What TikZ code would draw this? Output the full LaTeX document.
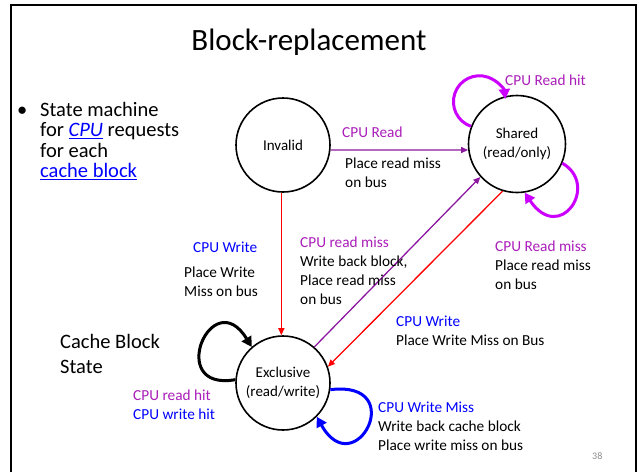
\documentclass[tikz,border=0pt]{standalone}
\usepackage{fontspec}
\setmainfont{Carlito}
\usetikzlibrary{arrows.meta}

\definecolor{purpline}{RGB}{140,25,160}
\definecolor{purptext}{RGB}{170,30,185}
\definecolor{magloop}{RGB}{204,0,255}
\definecolor{linkblue}{RGB}{0,0,255}
\definecolor{pagenum}{RGB}{140,140,140}

% left-aligned block whose baseline is the first line's baseline
\newcommand\txt[1]{\begin{tabular}[t]{@{}l@{}}#1\end{tabular}}
% blue underlined hyperlink-style text
\newcommand\lnk[1]{{\color{linkblue}\setbox0=\hbox{#1}\rlap{\rule[-2.6pt]{\wd0}{1.5pt}}\box0}}

\begin{document}
\begin{tikzpicture}[x=1pt,y=1pt,
  stnode/.style={circle, draw=black, line width=1.6pt, inner sep=0pt, align=center,
                 font=\fontsize{15}{19}\selectfont},
  lbl/.style={anchor=base west, inner sep=0pt, font=\fontsize{15.3}{19}\selectfont},
  big/.style={anchor=base west, inner sep=0pt, font=\fontsize{20.5}{20.3}\selectfont},
  edgearrow/.style={line width=1.3pt, -{Triangle[length=7pt,width=6pt]}},
  selfloop/.style={line width=3pt, -{Triangle[length=10pt,width=11pt]}},
]
\useasboundingbox (0,0) rectangle (639,-472);
\fill[white] (0,0) rectangle (639,-472);

% slide frame (open at the bottom)
\draw[line width=2.6pt] (11,-472) -- (11,-5) -- (636,-5) -- (636,-472);

% title
\node[anchor=base, inner sep=0pt, font=\fontsize{31}{36}\selectfont] (title) at (309,-50) {Block-replacement};

% bullet text
\node[big] (dot) at (17,-116.5) {•};
\node[big] (bullet) at (40,-116.5) {\txt{State machine\\for \lnk{\textit{CPU}} requests\\for each\\\lnk{cache block}}};

\node[anchor=base west, inner sep=0pt, font=\fontsize{20.5}{25}\selectfont] (cbs) at (60,-348)
  {\txt{Cache Block\\State}};

% states
\node[stnode, minimum size=94pt] (inv) at (283,-145) {Invalid};
\node[stnode, minimum size=97pt] (sh)  at (517,-144) {Shared\\(read/only)};
\node[stnode, minimum size=94pt] (ex)  at (283,-383) {Exclusive\\(read/write)};

% transitions
\draw[edgearrow, purpline] (inv.-6) -- (sh.187);
\draw[edgearrow, red] (inv.-92) -- (ex.92);
\draw[edgearrow, purpline] (ex.49) -- (sh.222);
\draw[edgearrow, red] (sh.253) -- (ex.20);

% self loops
\draw[selfloop, magloop] (sh.159) arc[start angle=251, end angle=6, radius=26];
\draw[selfloop, magloop] (sh.-23) .. controls (600,-185) and (560,-245) .. (sh.-81.5);
\draw[selfloop, black] (ex.176) .. controls (165,-392) and (212,-282) .. (ex.131.5);
\draw[selfloop, linkblue] (ex.-8) .. controls (410,-380) and (355,-485) .. (ex.-45);

% transition labels
\node[lbl, text=purptext] (lhit) at (505,-85) {CPU Read hit};
\node[lbl, text=purptext] (lrd) at (342,-137) {CPU Read};
\node[lbl] (lrdact) at (345,-168) {\txt{Place read miss\\on bus}};
\node[lbl] (lcw1) at (184,-252) {\txt{\hspace*{9pt}\textcolor{linkblue}{CPU Write}\\[6pt]Place Write\\Miss on bus}};
\node[lbl] (lrm1) at (300,-247) {\txt{\textcolor{purptext}{CPU read miss}\\Write back block,\\Place read miss\\on bus}};
\node[lbl] (lrm2) at (495,-251) {\txt{\textcolor{purptext}{CPU Read miss}\\Place read miss\\on bus}};
\node[lbl] (lcw2) at (396,-326) {\txt{\textcolor{linkblue}{CPU Write}\\Place Write Miss on Bus}};
\node[lbl] (lhits) at (133,-400) {\txt{\textcolor{purptext}{CPU read hit}\\\textcolor{linkblue}{CPU write hit}}};
\node[lbl] (lwm) at (378,-412) {\txt{\textcolor{linkblue}{CPU Write Miss}\\Write back cache block\\Place write miss on bus}};

% page number
\node[anchor=base west, inner sep=0pt, text=pagenum, font=\fontsize{10}{12}\selectfont] (num) at (592,-459) {38};
\end{tikzpicture}
\end{document}
